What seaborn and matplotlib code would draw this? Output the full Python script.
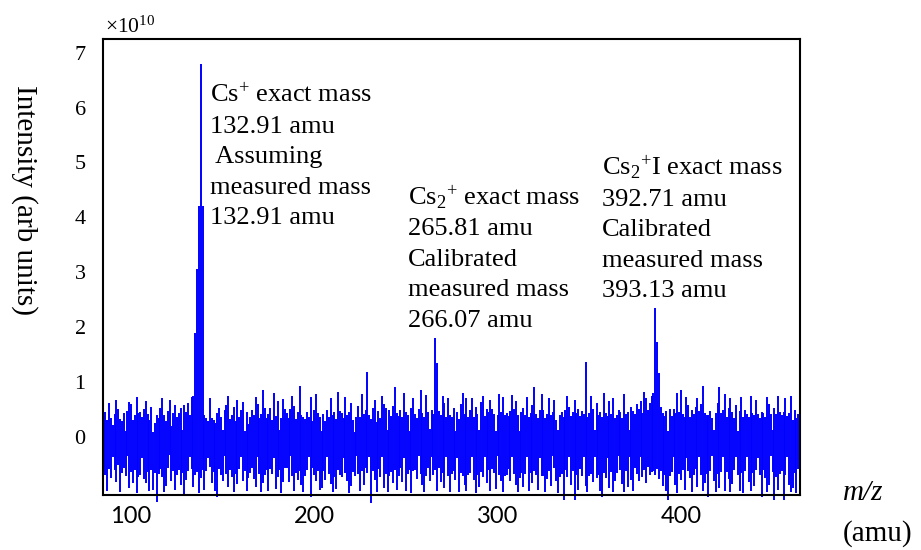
import numpy as np
import pandas as pd
import seaborn as sns
import matplotlib.pyplot as plt

# spectrum read per amu from m/z 85: upper and lower edge of the trace, in units of 1e10
mz_start = 85
upper = [
    0.38, 0.45, 0.30, 0.62, 0.35, 0.22, 0.42, 0.68, 0.50, 0.33,   # 85
    0.28, 0.44, 0.10, 0.47, 0.64, 0.60, 0.31, 0.40, 0.72, 0.43,   # 95
    0.46, 0.36, 0.50, 0.66, 0.41, 0.31, 0.55, 0.08, 0.25, 0.39,   # 105
    0.34, 0.52, 0.71, 0.40, 0.29, 0.47, 0.67, 0.20, 0.43, 0.58,   # 115
    0.37, 0.43, 0.52, 0.12, 0.58, 0.45, 0.62, 0.40, 0.73, 0.75,   # 125
    1.90, 3.05, 4.20, 6.80, 4.20, 0.40, 0.35, 0.28, 0.70, 0.35,   # 135
    0.31, 0.26, 0.44, 0.52, 0.37, 0.12, 0.49, 0.58, 0.74, 0.33,   # 145
    0.40, 0.55, 0.29, 0.68, 0.36, 0.48, 0.63, 0.10, 0.45, 0.24,   # 155
    0.36, 0.48, 0.39, 0.72, 0.60, 0.34, 0.41, 0.86, 0.52, 0.34,   # 165
    0.41, 0.52, 0.30, 0.80, 0.38, 0.66, 0.12, 0.35, 0.69, 0.50,   # 175
    0.44, 0.35, 0.50, 0.75, 0.56, 0.32, 0.46, 0.93, 0.40, 0.37,   # 185
    0.32, 0.46, 0.37, 0.72, 0.28, 0.48, 0.78, 0.43, 0.36, 0.10,   # 195
    0.41, 0.29, 0.48, 0.36, 0.70, 0.40, 0.45, 0.33, 0.82, 0.47,   # 205
    0.43, 0.34, 0.73, 0.39, 0.45, 0.62, 0.30, 0.08, 0.37, 0.56,   # 215
    0.37, 0.78, 0.42, 0.49, 1.18, 0.40, 0.33, 0.52, 0.68, 0.27,   # 225
    0.47, 0.35, 0.75, 0.60, 0.53, 0.12, 0.49, 0.38, 0.57, 0.91,   # 235
    0.44, 0.38, 0.49, 0.36, 0.80, 0.45, 0.40, 0.10, 0.52, 0.70,   # 245
    0.41, 0.34, 0.50, 0.86, 0.43, 0.37, 0.77, 0.46, 0.15, 0.48,   # 255
    0.42, 1.80, 1.35, 0.47, 0.39, 0.75, 0.62, 0.36, 0.70, 0.40,   # 265
    0.36, 0.52, 0.10, 0.46, 0.33, 0.59, 0.80, 0.42, 0.70, 0.37,   # 275
    0.48, 0.70, 0.37, 0.55, 0.42, 0.12, 0.64, 0.74, 0.38, 0.51,   # 285
    0.45, 0.68, 0.50, 0.41, 0.10, 0.39, 0.78, 0.46, 0.72, 0.40,   # 295
    0.43, 0.38, 0.47, 0.76, 0.51, 0.66, 0.40, 0.10, 0.46, 0.53,   # 305
    0.40, 0.72, 0.37, 0.44, 0.58, 0.90, 0.42, 0.35, 0.49, 0.78,   # 315
    0.49, 0.35, 0.42, 0.70, 0.39, 0.45, 0.68, 0.31, 0.12, 0.40,   # 325
    0.45, 0.36, 0.48, 0.74, 0.55, 0.38, 0.46, 0.68, 0.43, 0.50,   # 335
    0.38, 0.47, 0.42, 1.37, 0.36, 0.43, 0.74, 0.50, 0.12, 0.62,   # 345
    0.40, 0.46, 0.37, 0.80, 0.44, 0.38, 0.66, 0.41, 0.70, 0.34,   # 355
    0.39, 0.48, 0.45, 0.34, 0.78, 0.41, 0.45, 0.12, 0.55, 0.47,   # 365
    0.42, 0.60, 0.50, 0.66, 0.44, 0.82, 0.70, 0.48, 0.62, 0.75,   # 375
    0.80, 2.35, 1.73, 1.17, 0.55, 0.44, 0.38, 0.47, 0.10, 0.50,   # 385
    0.38, 0.50, 0.43, 0.80, 0.46, 0.85, 0.42, 0.36, 0.72, 0.58,   # 395
    0.36, 0.49, 0.41, 0.55, 0.70, 0.47, 0.60, 0.93, 0.44, 0.39,   # 405
    0.39, 0.47, 0.35, 0.12, 0.44, 0.62, 0.90, 0.43, 0.48, 0.78,   # 415
    0.37, 0.52, 0.70, 0.45, 0.34, 0.58, 0.10, 0.47, 0.72, 0.36,   # 425
    0.48, 0.41, 0.36, 0.75, 0.44, 0.39, 0.68, 0.42, 0.35, 0.46,   # 435
    0.44, 0.37, 0.72, 0.60, 0.41, 0.12, 0.52, 0.42, 0.75, 0.46,   # 445
    0.40, 0.46, 0.70, 0.38, 0.44, 0.74, 0.30, 0.48, 0.35, 0.42,   # 455
]
lower = [
    -0.55, -0.70, -0.98, -0.58, -0.75, -0.36, -0.60, -0.82, -0.52, -1.00,   # 85
    -0.66, -0.57, -0.72, -0.35, -0.94, -0.64, -0.85, -0.61, -1.02, -0.73,   # 95
    -0.69, -0.38, -0.77, -0.85, -0.64, -0.99, -0.60, -0.96, -0.66, -1.18,   # 105
    -0.68, -0.59, -0.74, -1.00, -0.90, -0.56, -0.34, -0.81, -0.62, -0.97,   # 115
    -0.70, -0.61, -0.88, -0.66, -1.04, -0.79, -0.63, -0.36, -0.58, -0.92,   # 125
    -0.70, -0.64, -1.02, -0.75, -0.60, -0.97, -0.62, -0.38, -0.55, -0.84,   # 135
    -0.64, -0.99, -1.10, -0.58, -0.69, -0.80, -0.35, -0.67, -0.91, -0.60,   # 145
    -0.73, -1.00, -0.67, -0.86, -0.59, -0.37, -0.81, -0.62, -0.98, -0.75,   # 155
    -0.65, -0.57, -0.76, -0.92, -0.36, -0.68, -1.01, -0.84, -0.70, -0.61,   # 165
    -0.98, -0.58, -0.68, -0.38, -0.95, -0.74, -0.60, -1.02, -0.83, -0.56,   # 175
    -0.56, -0.83, -0.35, -0.71, -0.99, -0.66, -0.78, -0.62, -0.88, -1.00,   # 185
    -0.71, -0.60, -0.37, -1.10, -0.57, -0.69, -0.80, -0.62, -0.97, -0.94,   # 195
    -0.62, -0.78, -0.36, -0.67, -0.86, -1.00, -0.73, -0.95, -0.61, -0.70,   # 205
    -0.73, -0.38, -0.66, -0.80, -1.02, -0.90, -0.64, -0.72, -0.35, -0.68,   # 215
    -0.99, -0.63, -0.87, -0.57, -0.66, -0.37, -1.20, -0.62, -0.79, -1.00,   # 225
    -0.59, -0.74, -0.36, -0.93, -0.68, -1.01, -0.72, -0.64, -0.85, -0.60,   # 235
    -0.97, -0.71, -0.57, -0.82, -0.38, -0.99, -0.67, -0.60, -1.03, -0.62,   # 245
    -0.60, -0.76, -0.35, -0.67, -0.88, -1.00, -0.71, -0.57, -0.80, -0.37,   # 255
    -0.70, -0.61, -0.98, -0.56, -0.83, -0.65, -0.93, -0.36, -0.72, -1.01,   # 265
    -0.68, -0.63, -0.78, -0.38, -1.00, -0.66, -0.72, -0.87, -0.99, -0.70,   # 275
    -0.65, -0.36, -0.79, -1.02, -0.69, -0.91, -0.64, -0.73, -0.37, -0.84,   # 285
    -0.61, -0.98, -0.58, -0.66, -0.95, -0.35, -0.70, -0.81, -1.00, -0.72,   # 295
    -0.70, -0.59, -0.81, -0.37, -0.68, -0.88, -1.01, -0.75, -0.66, -0.92,   # 305
    -0.67, -0.36, -0.98, -0.65, -0.84, -0.62, -0.70, -0.97, -0.38, -0.71,   # 315
    -0.71, -1.00, -0.77, -0.63, -0.89, -0.35, -0.57, -0.80, -1.02, -0.74,   # 325
    -0.68, -1.15, -0.61, -0.74, -0.36, -0.87, -0.62, -1.15, -0.70, -0.97,   # 335
    -0.59, -0.72, -0.37, -0.90, -1.00, -0.72, -0.68, -0.83, -0.36, -0.75,   # 345
    -0.69, -0.99, -1.10, -0.66, -0.75, -0.38, -0.94, -0.64, -1.01, -0.80,   # 355
    -0.66, -0.35, -0.61, -0.86, -1.00, -0.63, -0.91, -0.37, -0.78, -0.98,   # 365
    -0.57, -0.68, -0.80, -0.36, -0.74, -0.60, -0.85, -0.55, -0.70, -0.64,   # 375
    -0.62, -0.70, -0.58, -0.76, -0.62, -0.90, -0.70, -0.99, -1.15, -0.72,   # 385
    -0.64, -0.36, -0.88, -1.02, -0.67, -0.78, -0.61, -0.96, -0.38, -0.63,   # 395
    -0.75, -1.00, -0.70, -0.58, -0.92, -0.37, -0.70, -0.98, -0.84, -0.68,   # 405
    -1.10, -0.62, -0.35, -0.80, -1.01, -0.68, -0.94, -0.64, -0.36, -0.99,   # 415
    -0.64, -0.77, -1.00, -0.86, -0.61, -0.37, -0.69, -0.98, -0.66, -1.02,   # 425
    -0.63, -0.36, -0.82, -0.99, -0.66, -0.90, -0.61, -0.38, -0.69, -1.10,   # 435
    -0.61, -0.75, -1.00, -0.88, -0.35, -0.64, -1.15, -0.73, -0.96, -0.68,   # 445
    -0.62, -1.15, -0.70, -0.37, -0.87, -1.01, -0.93, -0.65, -1.02, -0.59,   # 455
]

xticks = [100, 200, 300, 400]
yticks = [0, 1, 2, 3, 4, 5, 6, 7]

cs_text = ['Cs$^{+}$ exact mass', '132.91 amu', ' Assuming', 'measured mass', '132.91 amu']
cs2_text = ['Cs$_{2}$$^{+}$ exact mass', '265.81 amu', 'Calibrated', 'measured mass', '266.07 amu']
cs2i_text = ['Cs$_{2}$$^{+}$I exact mass', '392.71 amu', 'Calibrated', 'measured mass', '393.13 amu']

# one vertical stroke per amu, from the lower to the upper edge
mz = mz_start + np.arange(len(upper))
df = pd.concat([
    pd.DataFrame({'mz': mz, 'intensity': lower, 'amu': mz}),
    pd.DataFrame({'mz': mz, 'intensity': upper, 'amu': mz}),
], ignore_index=True)

sns.set_style('white')
plt.rcParams['font.family'] = ['Liberation Serif', 'DejaVu Serif']
plt.rcParams['mathtext.fontset'] = 'custom'
plt.rcParams['mathtext.rm'] = 'Liberation Serif'
plt.rcParams['mathtext.it'] = 'Liberation Serif:italic'
for key in ['text.color', 'axes.labelcolor', 'xtick.color', 'ytick.color', 'axes.edgecolor']:
    plt.rcParams[key] = 'black'

fig = plt.figure(figsize=(9.21, 5.5), dpi=100)
ax = fig.add_axes([103 / 921, 55 / 550, 697 / 921, 456 / 550])

sns.lineplot(data=df, x='mz', y='intensity', units='amu', estimator=None,
             color='blue', linewidth=1.4, ax=ax)
for ln in ax.lines:
    ln.set_clip_on(False)
    ln.set_solid_capstyle('butt')

ax.set_xlim(84.7, 465)
ax.set_ylim(-1.06, 7.25)
ax.set_xlabel('')
ax.set_ylabel('')

ax.set_xticks(xticks)
ax.set_xticklabels([str(v) for v in xticks], fontfamily='Lato', fontsize=17)
ax.tick_params(axis='x', length=0, pad=8)
ax.set_yticks(yticks)
ax.tick_params(axis='y', direction='in', length=9.5, width=1.5, labelsize=16, pad=12.5)

for s in ax.spines.values():
    s.set_linewidth(1.5)

# annotation blocks, one line at a time
dy = 30.5 / 54.9
for lines, (x0, y0) in [(cs_text, (143.1, 6.10)), (cs2_text, (251.1, 4.23)), (cs2i_text, (357.0, 4.77))]:
    for k, t in enumerate(lines):
        ax.text(x0, y0 - k * dy, t, fontsize=19, ha='left', va='baseline')

fig.text(105 / 921, 1 - 33 / 550, '×10$^{10}$', fontsize=15.5, ha='left', va='baseline')
fig.text(24 / 921, 1 - 200 / 550, 'Intensity (arb units)', fontsize=21, rotation=270,
         ha='center', va='center')
fig.text(843 / 921, 1 - 500 / 550, 'm/z', fontsize=21, fontstyle='italic', ha='left', va='baseline')
fig.text(843 / 921, 1 - 541 / 550, '(amu)', fontsize=21, ha='left', va='baseline')

fig.savefig('out.png', dpi=100)
